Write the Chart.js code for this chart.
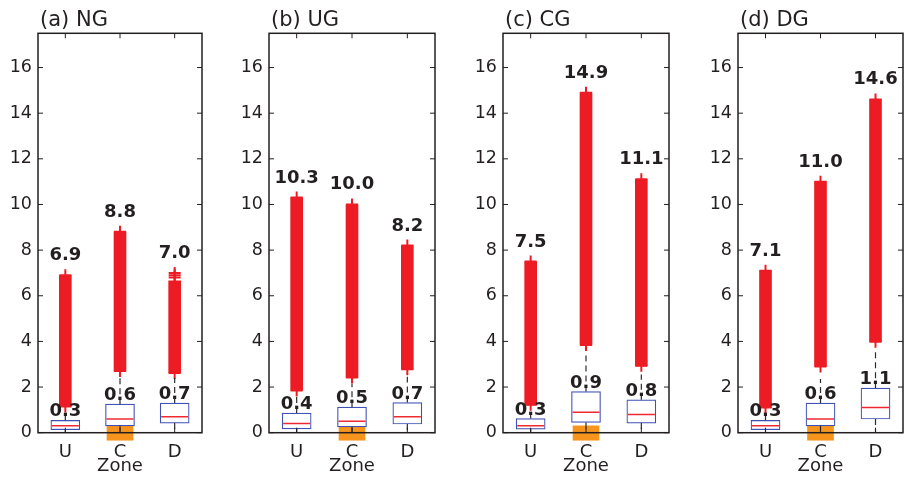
<!DOCTYPE html>
<html>
<head>
<meta charset="utf-8">
<script src="https://cdn.jsdelivr.net/npm/chart.js@4.4.1/dist/chart.umd.min.js"></script>
<style>
  html, body { margin: 0; padding: 0; background: #fff; overflow: hidden; }
  #wrap { position: relative; width: 907px; height: 479px; overflow: hidden; }
  #wrap canvas { position: absolute; top: 0; }
</style>
</head>
<body>
<div id="wrap"></div>
<script>
// categorias y paneles
const categories = ['U', 'C', 'D'];
const panelTitles = ['(a) NG', '(b) UG', '(c) CG', '(d) DG'];
const yTicks = [0, 2, 4, 6, 8, 10, 12, 14, 16];

// estadisticos de cada caja (U, C, D) por panel
const q1Vals     = [[0.13, 0.30, 0.42], [0.17, 0.25, 0.38], [0.16, 0.45, 0.42], [0.13, 0.30, 0.60]];
const medianVals = [[0.3, 0.6, 0.7], [0.4, 0.5, 0.7], [0.3, 0.9, 0.8], [0.3, 0.6, 1.1]];
const q3Vals     = [[0.54, 1.25, 1.30], [0.86, 1.12, 1.32], [0.62, 1.80, 1.44], [0.54, 1.30, 1.95]];
const whiskerLo  = [[0, 0, 0], [0, 0, 0], [0, 0, 0], [0, 0, 0]];
const whiskerHi  = [[0.9, 2.45, 2.4], [1.6, 2.15, 2.45], [1.0, 3.55, 2.55], [0.9, 2.35, 3.7]];
const outlierLo  = [[1.15, 2.7, 2.62], [1.85, 2.42, 2.78], [1.22, 3.84, 2.93], [1.1, 2.9, 3.99]];
const outlierHi  = [[6.9, 8.8, 6.65], [10.3, 10.0, 8.2], [7.5, 14.9, 11.1], [7.1, 11.0, 14.6]];
const maxVals    = [[6.9, 8.8, 7.0], [10.3, 10.0, 8.2], [7.5, 14.9, 11.1], [7.1, 11.0, 14.6]];
const looseOutliers = [[['D', 6.8], ['D', 6.9]], [], [], []];
const shadeZone = 'C';
const shadeRange = [-0.33, 0.3];

// posicion de cada marco en la pagina
const frames = [
  { left: 38, width: 176 },
  { left: 269, width: 178 },
  { left: 503, width: 178 },
  { left: 738, width: 177 }
];
const AXIS_W = 38;
const INK = '#231f20';
const RED = '#ed1c24';

Chart.defaults.font.family = '"DejaVu Sans", sans-serif';
Chart.defaults.color = INK;

const boxExtras = {
  id: 'boxExtras',
  afterDatasetsDraw(chart, args, opts) {
    const p = opts.panel;
    const { ctx, scales: { x, y } } = chart;
    ctx.save();
    // bigotes
    ctx.strokeStyle = '#2b2b2b';
    ctx.lineWidth = 1.2;
    ctx.setLineDash([6, 4]);
    categories.forEach((c, i) => {
      const px = x.getPixelForValue(i);
      ctx.beginPath();
      ctx.moveTo(px, y.getPixelForValue(q3Vals[p][i]));
      ctx.lineTo(px, y.getPixelForValue(whiskerHi[p][i]));
      ctx.moveTo(px, y.getPixelForValue(q1Vals[p][i]));
      ctx.lineTo(px, y.getPixelForValue(whiskerLo[p][i]));
      ctx.stroke();
    });
    ctx.setLineDash([]);
    // etiquetas de maximo y mediana
    ctx.fillStyle = INK;
    ctx.font = 'bold 18px "DejaVu Sans"';
    ctx.textAlign = 'center';
    ctx.textBaseline = 'alphabetic';
    categories.forEach((c, i) => {
      const px = x.getPixelForValue(i);
      ctx.fillText(maxVals[p][i].toFixed(1), px, y.getPixelForValue(maxVals[p][i]) - 15);
      ctx.fillText(medianVals[p][i].toFixed(1), px, y.getPixelForValue(q3Vals[p][i]) - 4);
    });
    ctx.restore();
  },
  afterDraw(chart, args, opts) {
    const { ctx, chartArea: a, scales: { x, y } } = chart;
    ctx.save();
    ctx.strokeStyle = INK;
    ctx.lineWidth = 1.5;
    ctx.strokeRect(a.left, a.top, a.right - a.left, a.bottom - a.top);
    // marcas hacia dentro
    ctx.lineWidth = 1;
    ctx.beginPath();
    yTicks.forEach(v => {
      const py = y.getPixelForValue(v);
      ctx.moveTo(a.left, py); ctx.lineTo(a.left + 5, py);
      ctx.moveTo(a.right, py); ctx.lineTo(a.right - 5, py);
    });
    categories.forEach((c, i) => {
      const px = x.getPixelForValue(i);
      ctx.moveTo(px, a.top); ctx.lineTo(px, a.top + 5);
      ctx.moveTo(px, a.bottom); ctx.lineTo(px, a.bottom - 5);
    });
    ctx.stroke();
    // titulo del panel
    ctx.fillStyle = INK;
    ctx.font = '21px "DejaVu Sans"';
    ctx.textAlign = 'left';
    ctx.textBaseline = 'alphabetic';
    ctx.fillText(panelTitles[opts.panel], a.left + 2, a.top - 7.5);
    ctx.restore();
  }
};

const wrap = document.getElementById('wrap');

panelTitles.forEach((title, p) => {
  const f = frames[p];
  const cv = document.createElement('canvas');
  cv.width = AXIS_W + f.width + 3;
  cv.height = 479;
  cv.style.left = (f.left - AXIS_W) + 'px';
  wrap.appendChild(cv);

  const shade = categories.map(c => c === shadeZone ? shadeRange : null);
  const loose = looseOutliers[p].map(([c, v]) => ({ x: c, y: v }));

  new Chart(cv, {
    type: 'bar',
    data: {
      labels: categories,
      datasets: [
        {
          label: 'zona', data: shade, backgroundColor: '#f7941d',
          barThickness: 26, grouped: false, clip: false, order: 6
        },
        {
          label: 'caja', data: categories.map((c, i) => [q1Vals[p][i], q3Vals[p][i]]),
          backgroundColor: '#ffffff', borderColor: '#3f51b5', borderWidth: 1.2,
          borderSkipped: false, barThickness: 29, grouped: false, order: 5
        },
        {
          label: 'atipicos', data: categories.map((c, i) => [outlierLo[p][i], outlierHi[p][i]]),
          backgroundColor: RED, barThickness: 12, grouped: false, order: 4
        },
        {
          type: 'line', label: 'extremos', data: maxVals[p], showLine: false,
          pointStyle: 'cross', pointRadius: 6, pointHoverRadius: 6,
          pointBorderWidth: 2, pointBorderColor: RED, borderColor: RED, order: 3
        },
        {
          type: 'line', label: 'inicio', data: outlierLo[p], showLine: false,
          pointStyle: 'cross', pointRadius: 6, pointHoverRadius: 6,
          pointBorderWidth: 2, pointBorderColor: RED, borderColor: RED, order: 3
        },
        {
          type: 'line', label: 'sueltos', data: loose, showLine: false,
          pointStyle: 'cross', pointRadius: 6, pointHoverRadius: 6,
          pointBorderWidth: 2, pointBorderColor: RED, borderColor: RED, order: 3
        },
        {
          type: 'line', label: 'mediana', data: medianVals[p], showLine: false,
          pointStyle: 'line', pointRadius: 13.5, pointHoverRadius: 13.5,
          pointBorderWidth: 1.5, pointBorderColor: '#ee2a30', borderColor: '#ee2a30', order: 1
        }
      ]
    },
    options: {
      responsive: false,
      animation: false,
      events: [],
      layout: { padding: { top: 33.3, right: 3, left: 0, bottom: 0 } },
      plugins: {
        legend: { display: false },
        tooltip: { enabled: false },
        boxExtras: { panel: p }
      },
      scales: {
        x: {
          grid: { display: false, drawTicks: false },
          border: { display: false },
          ticks: { padding: 9, font: { size: 18 }, color: INK },
          title: { display: true, text: 'Zone', font: { size: 18 }, color: INK, padding: { top: 0, bottom: 2 } },
          afterFit: s => { s.height = 479 - 432.7; }
        },
        y: {
          min: 0,
          max: 17.5,
          grid: { display: false, drawTicks: false },
          border: { display: false },
          ticks: { padding: 6, font: { size: 17.5 }, color: INK },
          afterBuildTicks: s => { s.ticks = yTicks.map(v => ({ value: v })); },
          afterFit: s => { s.width = AXIS_W; }
        }
      }
    },
    plugins: [boxExtras]
  });
});
</script>
</body>
</html>
